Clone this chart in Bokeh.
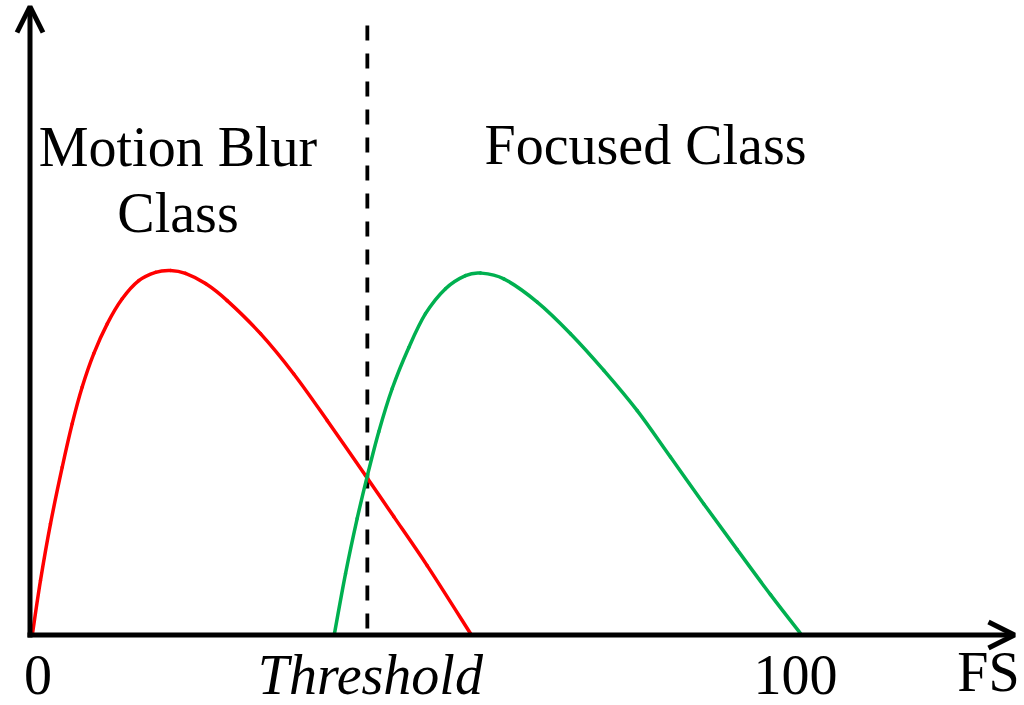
from bokeh.plotting import figure
from bokeh.models import Range1d, Arrow, OpenHead
from bokeh.core.properties import value
from bokeh.embed import file_html
from bokeh.resources import INLINE

# ---------------- data ----------------
blur_x = [0, 1.04, 2.34, 3.87, 5.17, 6.47, 7.98, 9.73, 11.68, 13.84, 16.02, 17.97,
          19.92, 22.53, 25.35, 29.69, 34.02, 38.37, 43.36, 47.04, 51.39, 57.03]
blur_y = [0, 14.6, 30.2, 45.8, 57.8, 67.9, 77.1, 85.3, 92.2, 97.2, 99.5, 100,
          99.2, 96.4, 91.7, 82.6, 71.5, 58.7, 43.5, 32.2, 18.7, 0]

focus_x = [39.32, 40.76, 42.28, 43.58, 45.09, 46.84, 49.0, 51.17, 53.78, 56.38, 58.33,
           61.37, 65.72, 70.05, 74.39, 78.74, 83.07, 87.41, 91.76, 96.09, 100.0]
focus_y = [0, 16.5, 31.7, 43.3, 55.6, 67.5, 78.8, 88.1, 95.0, 98.6, 99.3,
           97.7, 91.3, 82.6, 72.5, 61.4, 48.6, 35.7, 23.1, 10.7, 0]

threshold = 43.6
tick_values = [0, 100]
tick_labels = ["0", "100"]
threshold_label = "Threshold"
axis_label = "FS"
class_labels = ["Motion Blur", "Class", "Focused Class"]

# ---------------- layout ----------------
W, H = 1024, 705
SX, OX = 7.68, 32.0      # px per x-unit, canvas px of x = 0
SY, OY = 3.63, 633.0     # px per y-unit, canvas px of y = 0
TEXT_DY = 19             # correction of the text baseline placement, px


def cx(px):
    return (px - OX) / SX


def cy(py):
    return (OY - py) / SY


def ty(py):
    return cy(py - TEXT_DY)


def smooth_segments(xs, ys):
    """Cubic Bezier segments passing through every read point (Catmull-Rom)."""
    n = len(xs)
    seg = dict(x0=[], y0=[], x1=[], y1=[], cx0=[], cy0=[], cx1=[], cy1=[])
    for i in range(n - 1):
        i0, i3 = max(i - 1, 0), min(i + 2, n - 1)
        seg["x0"].append(xs[i]); seg["y0"].append(ys[i])
        seg["x1"].append(xs[i + 1]); seg["y1"].append(ys[i + 1])
        seg["cx0"].append(xs[i] + (xs[i + 1] - xs[i0]) / 6)
        seg["cy0"].append(ys[i] + (ys[i + 1] - ys[i0]) / 6)
        seg["cx1"].append(xs[i + 1] - (xs[i3] - xs[i]) / 6)
        seg["cy1"].append(ys[i + 1] - (ys[i3] - ys[i]) / 6)
    return seg


p = figure(width=W, height=H,
           x_range=Range1d(-OX / SX, (W - OX) / SX),
           y_range=Range1d(-(H - OY) / SY, OY / SY),
           x_axis_location=None, y_axis_location=None,
           output_backend="svg", toolbar_location=None,
           min_border=0, outline_line_color=None,
           background_fill_color="white", border_fill_color="white")
p.grid.visible = False

FONT = value("Liberation Serif")
FS = "56px"

# threshold dashed line
p.segment(x0=[threshold], y0=[cy(25)], x1=[threshold], y1=[cy(641)],
          line_color="black", line_width=3.8, line_dash="15 13")

# curves
p.bezier(line_color="#FF0000", line_width=3.5, line_cap="round",
         **smooth_segments(blur_x, blur_y))
p.bezier(line_color="#00B050", line_width=3.5, line_cap="round",
         **smooth_segments(focus_x, focus_y))

# axes as arrows
p.add_layout(Arrow(x_start=cx(29.5), y_start=cy(637), x_end=cx(29.5), y_end=cy(6),
                   line_color="black", line_width=5,
                   end=OpenHead(size=26, line_width=5, line_color="black")))
p.add_layout(Arrow(x_start=cx(27), y_start=cy(634.5), x_end=cx(1014), y_end=cy(634.5),
                   line_color="black", line_width=5,
                   end=OpenHead(size=26, line_width=5, line_color="black")))

# tick labels
p.text(x=tick_values, y=[ty(693)] * len(tick_values), text=tick_labels,
       x_offset=[5.5, -5], text_font=FONT, text_font_size=FS,
       text_align="center", text_baseline="alphabetic", text_color="black")
p.text(x=[threshold], y=[ty(693)], text=[threshold_label], x_offset=3,
       text_font=FONT, text_font_size=FS, text_font_style="italic",
       text_align="center", text_baseline="alphabetic", text_color="black")
p.text(x=[cx(988)], y=[ty(690)], text=[axis_label],
       text_font=FONT, text_font_size=FS,
       text_align="center", text_baseline="alphabetic", text_color="black")

# class labels
p.text(x=[cx(177.5), cx(177.5), cx(645)], y=[ty(165.5), ty(231.5), ty(163.5)],
       text=class_labels, text_font=FONT, text_font_size=FS,
       text_align="center", text_baseline="alphabetic", text_color="black")

open("out.html", "w").write(file_html(p, INLINE))
